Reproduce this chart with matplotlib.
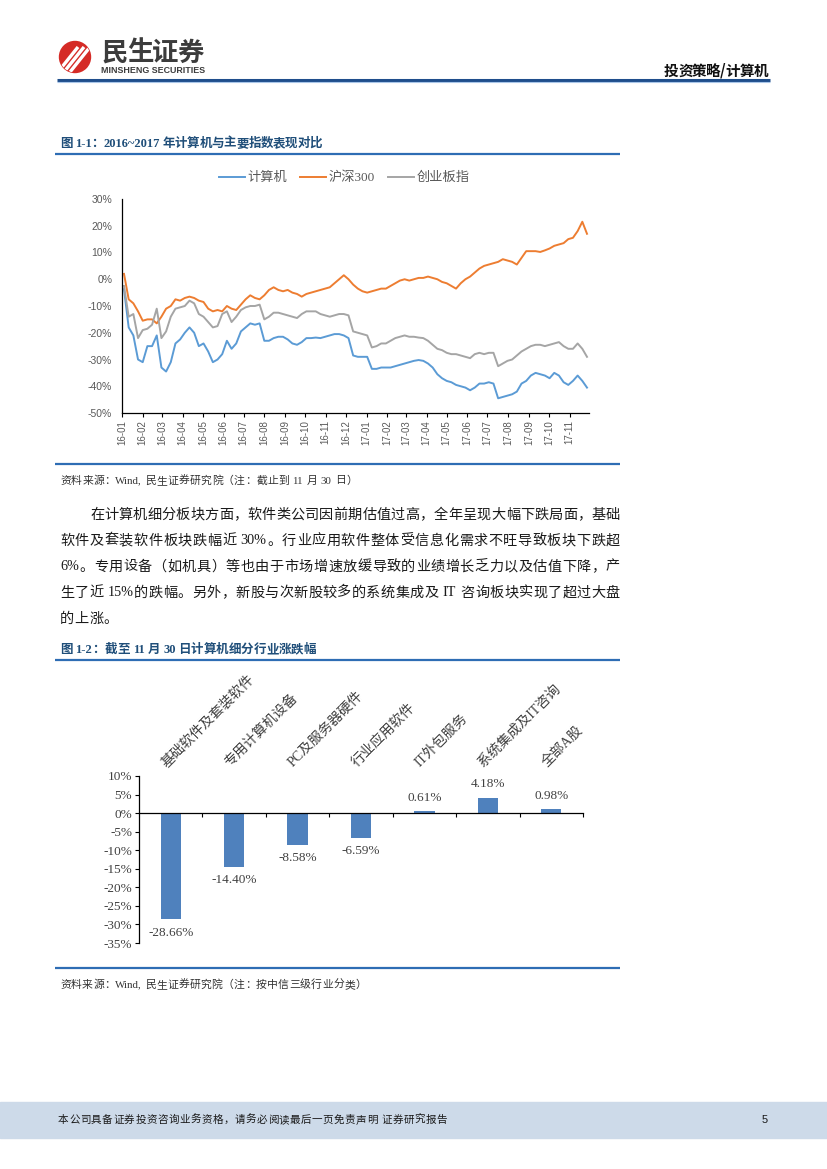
import matplotlib
matplotlib.use("Agg")
import matplotlib.pyplot as plt
import matplotlib.transforms as mtransforms
from matplotlib.patches import Circle, Rectangle
import pandas as pd

plt.rcParams['font.family'] = ['Liberation Serif', 'Noto Sans CJK SC', 'DejaVu Sans']

# ---------------- data ----------------
week_start = '2016-01-04'
n_weeks = 100
series_names = ['计算机', '沪深300', '创业板指']
computer = [-3.7, -18, -21, -30, -31, -25, -25, -21, -33, -34.5,
            -31, -24, -22.5, -20, -18, -20, -25, -24, -27, -31,
            -30, -28, -23, -26, -24, -19.5, -18, -16.5, -17, -16.5,
            -23, -23, -22, -21.5, -21.5, -22.5, -24, -24.5, -23.5, -22,
            -22, -21.8, -22, -21.5, -21, -20.5, -20.5, -21, -22, -28.5,
            -29, -29, -29, -33.5, -33.5, -33, -33, -33, -32.5, -32,
            -31.5, -31, -30.5, -30.2, -30.5, -31.5, -33, -35.5, -37, -38,
            -38.5, -39.5, -40, -40.5, -41.5, -40.5, -39, -39, -38.5, -39,
            -44.5, -44, -43.5, -43, -42, -39, -38, -36, -35, -35.5,
            -36, -37, -35, -36, -38.5, -39.5, -38, -36, -38, -40.5]
hs300 = [2.0, -7.5, -9, -12, -15.5, -15, -15, -16.5, -14, -11,
         -10, -7.5, -8, -7, -6.5, -7, -8, -8.5, -11, -12,
         -11.5, -12, -10, -11, -11.5, -9.5, -7.5, -6, -7, -7.5,
         -6, -4, -3, -4, -4.5, -4, -5, -5.5, -6.5, -5.5,
         -5, -4.5, -4, -3.5, -3, -1.5, 0, 1.5, 0, -2,
         -3.5, -4.5, -5, -4.5, -4, -3.5, -3.5, -2.5, -1.5, -0.5,
         0, -0.5, 0, 0.5, 0.5, 1, 0.5, 0, -1, -1.5,
         -2.5, -3.5, -1.5, 0, 1, 2.5, 4, 5, 5.5, 6,
         6.5, 7.5, 7, 6.5, 5.5, 8, 10.5, 10.5, 10.5, 10.2,
         10.8, 11.5, 12.5, 13, 13.5, 15, 15.5, 18, 21.5, 17]
chinext = [-2.5, -14, -13, -22, -19, -18.5, -17, -11, -22, -19.5,
           -14, -11, -10.5, -10, -8, -9, -13, -14, -16, -18,
           -17.5, -13, -12, -16, -14, -11.5, -10.5, -10, -10, -9.5,
           -15, -14, -12.5, -12.5, -13, -13.5, -14, -14.5, -13, -12,
           -12, -12, -13, -13.5, -14, -13.5, -13, -13, -13.5, -19.5,
           -20, -20.5, -21, -25.5, -25, -24, -24, -23, -22, -21.5,
           -21, -21.5, -21.5, -21.8, -22, -23, -24.5, -26, -26.5, -27.5,
           -28, -28, -28.5, -29, -29.5, -28, -27.5, -28, -27.5, -27.5,
           -32.5, -31.5, -30.5, -30, -28.5, -27, -26, -25, -24.5, -24.5,
           -25, -24.5, -24, -23.5, -25, -26, -26, -24, -26, -29]
line_yticks = [30, 20, 10, 0, -10, -20, -30, -40, -50]

bar_categories = ['基础软件及套装软件', '专用计算机设备', 'PC及服务器硬件', '行业应用软件',
                  'IT外包服务', '系统集成及IT咨询', '全部A股']
bar_values = [-28.66, -14.40, -8.58, -6.59, 0.61, 4.18, 0.98]
bar_yticks = [10, 5, 0, -5, -10, -15, -20, -25, -30, -35]

para_lines = [
    "在计算机细分板块方面，软件类公司因前期估值过高，全年呈现大幅下跌局面，基础",
    "软件及套装软件板块跌幅近 30%。行业应用软件整体受信息化需求不旺导致板块下跌超",
    "6%。专用设备（如机具）等也由于市场增速放缓导致的业绩增长乏力以及估值下降，产",
    "生了近 15%的跌幅。另外，新股与次新股较多的系统集成及 IT 咨询板块实现了超过大盘",
    "的上涨。",
]

# ---------------- page ----------------
W, H = 827, 1169
fig = plt.figure(figsize=(W / 100, H / 100), dpi=100)
bg = fig.add_axes([0, 0, 1, 1], zorder=0)
bg.set_xlim(0, W)
bg.set_ylim(H, 0)
bg.axis('off')
renderer = fig.canvas.get_renderer()


def tokenize(s):
    toks, cur = [], ''
    for ch in s:
        if ord(ch) < 128 and ch != ' ':
            cur += ch
        else:
            if cur:
                toks.append(cur)
                cur = ''
            toks.append(ch)
    if cur:
        toks.append(cur)
    return toks


def justify(s, x0, x1, y, gap=None, space=3.0, **kw):
    toks = tokenize(s)
    objs = [None if t == ' ' else bg.text(0, y, t, ha='left', va='center', **kw) for t in toks]
    widths = [space if o is None else o.get_window_extent(renderer).width for o in objs]
    if gap is None:
        gap = (x1 - x0 - sum(widths)) / max(len(toks) - 1, 1)
    x = x0
    for o, w in zip(objs, widths):
        if o is not None:
            o.set_x(x)
        x += w + gap
    return gap


# header logo
circ = Circle((75, 57), 15.5, color='#D52B26', zorder=2)
bg.add_patch(circ)
for off in (0, 6, 12):
    ln, = bg.plot([58 + off, 78 + off], [72, 47], color='white', lw=2.4,
                  solid_capstyle='butt', zorder=3)
    ln.set_clip_path(circ)
justify("民生证券", 102, 204, 53, fontsize=19, fontweight='bold', color='#3C3C3C',
        family=['Noto Sans CJK SC'])
bg.text(153, 70.5, "MINSHENG SECURITIES", ha='center', va='center', fontsize=6.4,
        fontweight='bold', color='#3C3C3C', family=['Liberation Sans'])
justify("投资策略/计算机", 664, 768, 71, fontsize=10.5, fontweight='bold', color='#111111',
        family=['Noto Sans CJK SC'])
bg.plot([57, 770], [80, 80], color='#1F4E8C', lw=2.2, solid_capstyle='butt')
bg.plot([57, 770], [82, 82], color='#A9C6E8', lw=0.8, solid_capstyle='butt')

# figure 1 title / rules
title_kw = dict(fontsize=9, fontweight='bold', color='#1F4E79')
justify("图 1-1：2016~2017 年计算机与主要指数表现对比", 60, 322, 144, **title_kw)
bg.plot([55, 620], [154, 154], color='#2E6DB4', lw=1.6, solid_capstyle='butt')
bg.plot([55, 620], [464, 464], color='#2E6DB4', lw=1.6, solid_capstyle='butt')
src_kw = dict(fontsize=7.8, color='#333333')
justify("资料来源：Wind, 民生证券研究院（注：截止到 11 月 30 日）", 60, 357, 481, **src_kw)

# paragraph
body_kw = dict(fontsize=10.2, color='#1A1A1A')
ys = [515, 541, 567, 593, 619]
g = None
for i, (line, y) in enumerate(zip(para_lines, ys)):
    x0 = 90 if i == 0 else 60
    if i < len(para_lines) - 1:
        g = justify(line, x0, 620, y, space=3.5, **body_kw)
    else:
        justify(line, x0, 620, y, gap=g, **body_kw)

# figure 2 title / rules
justify("图 1-2：截至 11 月 30 日计算机细分行业涨跌幅", 60, 316, 650, **title_kw)
bg.plot([55, 620], [660, 660], color='#2E6DB4', lw=1.6, solid_capstyle='butt')
bg.plot([55, 620], [968, 968], color='#2E6DB4', lw=1.6, solid_capstyle='butt')
justify("资料来源：Wind, 民生证券研究院（注：按中信三级行业分类）", 60, 366, 985, **src_kw)

# footer
bg.add_patch(Rectangle((0, 1102), W, 36, color='#CDDAE9', zorder=1))
justify("本公司具备证券投资咨询业务资格，请务必阅读最后一页免责声明 证券研究报告", 58, 447, 1120,
        fontsize=7.6, color='#1A1A1A', family=['Noto Sans CJK SC'])
bg.text(765, 1120, "5", ha='center', va='center', fontsize=8, color='#1A1A1A',
        family=['Liberation Sans'])

# ---------------- line chart ----------------
def fig_box(l, t, r, b):
    return [l / W, 1 - b / H, (r - l) / W, (b - t) / H]

ax1 = fig.add_axes(fig_box(122, 199, 589, 413), zorder=2)
ax1.set_facecolor('none')
dates = pd.date_range(week_start, periods=n_weeks, freq='7D')
colors = ['#5B9BD5', '#ED7D31', '#A5A5A5']
for name, vals, c in zip(series_names, [computer, hs300, chinext], colors):
    ax1.plot(dates, vals, color=c, lw=1.4, label=name)
ax1.set_xlim(pd.Timestamp('2016-01-01'), pd.Timestamp('2017-11-30'))
ax1.set_ylim(-50, 30)
ax1.set_yticks(line_yticks)
ax1.set_yticklabels([f"{v}%" for v in line_yticks])
months = pd.date_range('2016-01-01', '2017-11-01', freq='MS')
ax1.set_xticks(months)
ax1.set_xticklabels([d.strftime('%y-%m') for d in months], rotation=90)
for s in ('top', 'right'):
    ax1.spines[s].set_visible(False)
for s in ('left', 'bottom'):
    ax1.spines[s].set_color('#000000')
    ax1.spines[s].set_linewidth(0.9)
ax1.tick_params(axis='y', length=0, pad=7, labelsize=7.5, labelcolor='#595959')
ax1.tick_params(axis='x', length=3, width=0.8, direction='out', pad=2,
                labelsize=7, labelcolor='#595959')
for lab in ax1.get_xticklabels() + ax1.get_yticklabels():
    lab.set_family(['Liberation Sans'])
fig.legend(loc='center', bbox_to_anchor=(344 / W, 1 - 178 / H), ncol=3, frameon=False,
           fontsize=9.5, handlelength=2.0, handletextpad=0.15, columnspacing=1.0,
           labelcolor='#595959')

# ---------------- bar chart ----------------
ax2 = fig.add_axes(fig_box(139, 776, 583, 943), zorder=2)
ax2.set_facecolor('none')
pos = [i + 0.5 for i in range(len(bar_values))]
ax2.bar(pos, bar_values, width=0.32, color='#4F81BD')
ax2.set_xlim(0, len(bar_values))
ax2.set_ylim(-35, 10)
ax2.set_yticks(bar_yticks)
ax2.set_yticklabels([f"{v}%" for v in bar_yticks])
ax2.set_xticks(range(1, len(bar_values) + 1))
ax2.set_xticklabels([])
for s in ('top', 'right'):
    ax2.spines[s].set_visible(False)
ax2.spines['bottom'].set_position(('data', 0))
for s in ('left', 'bottom'):
    ax2.spines[s].set_color('#000000')
    ax2.spines[s].set_linewidth(0.9)
ax2.tick_params(axis='y', length=3, width=0.8, direction='out', pad=2,
                labelsize=9.5, labelcolor='#404040')
ax2.tick_params(axis='x', length=3, width=0.8, direction='out')
for p, v in zip(pos, bar_values):
    off = 9.5 if v >= 0 else -9.5
    ax2.annotate(f"{v:.2f}%", (p, v), xytext=(0, off), textcoords='offset points',
                 ha='center', va='center', fontsize=9.5, color='#404040')
blend = mtransforms.blended_transform_factory(ax2.transData, bg.transData)
for p, name in zip(pos, bar_categories):
    ax2.text(p - 0.11, 765, name, transform=blend, rotation=45, rotation_mode='anchor',
             ha='left', va='center', fontsize=10, color='#404040', clip_on=False)

fig.savefig('out.png', dpi=100)
